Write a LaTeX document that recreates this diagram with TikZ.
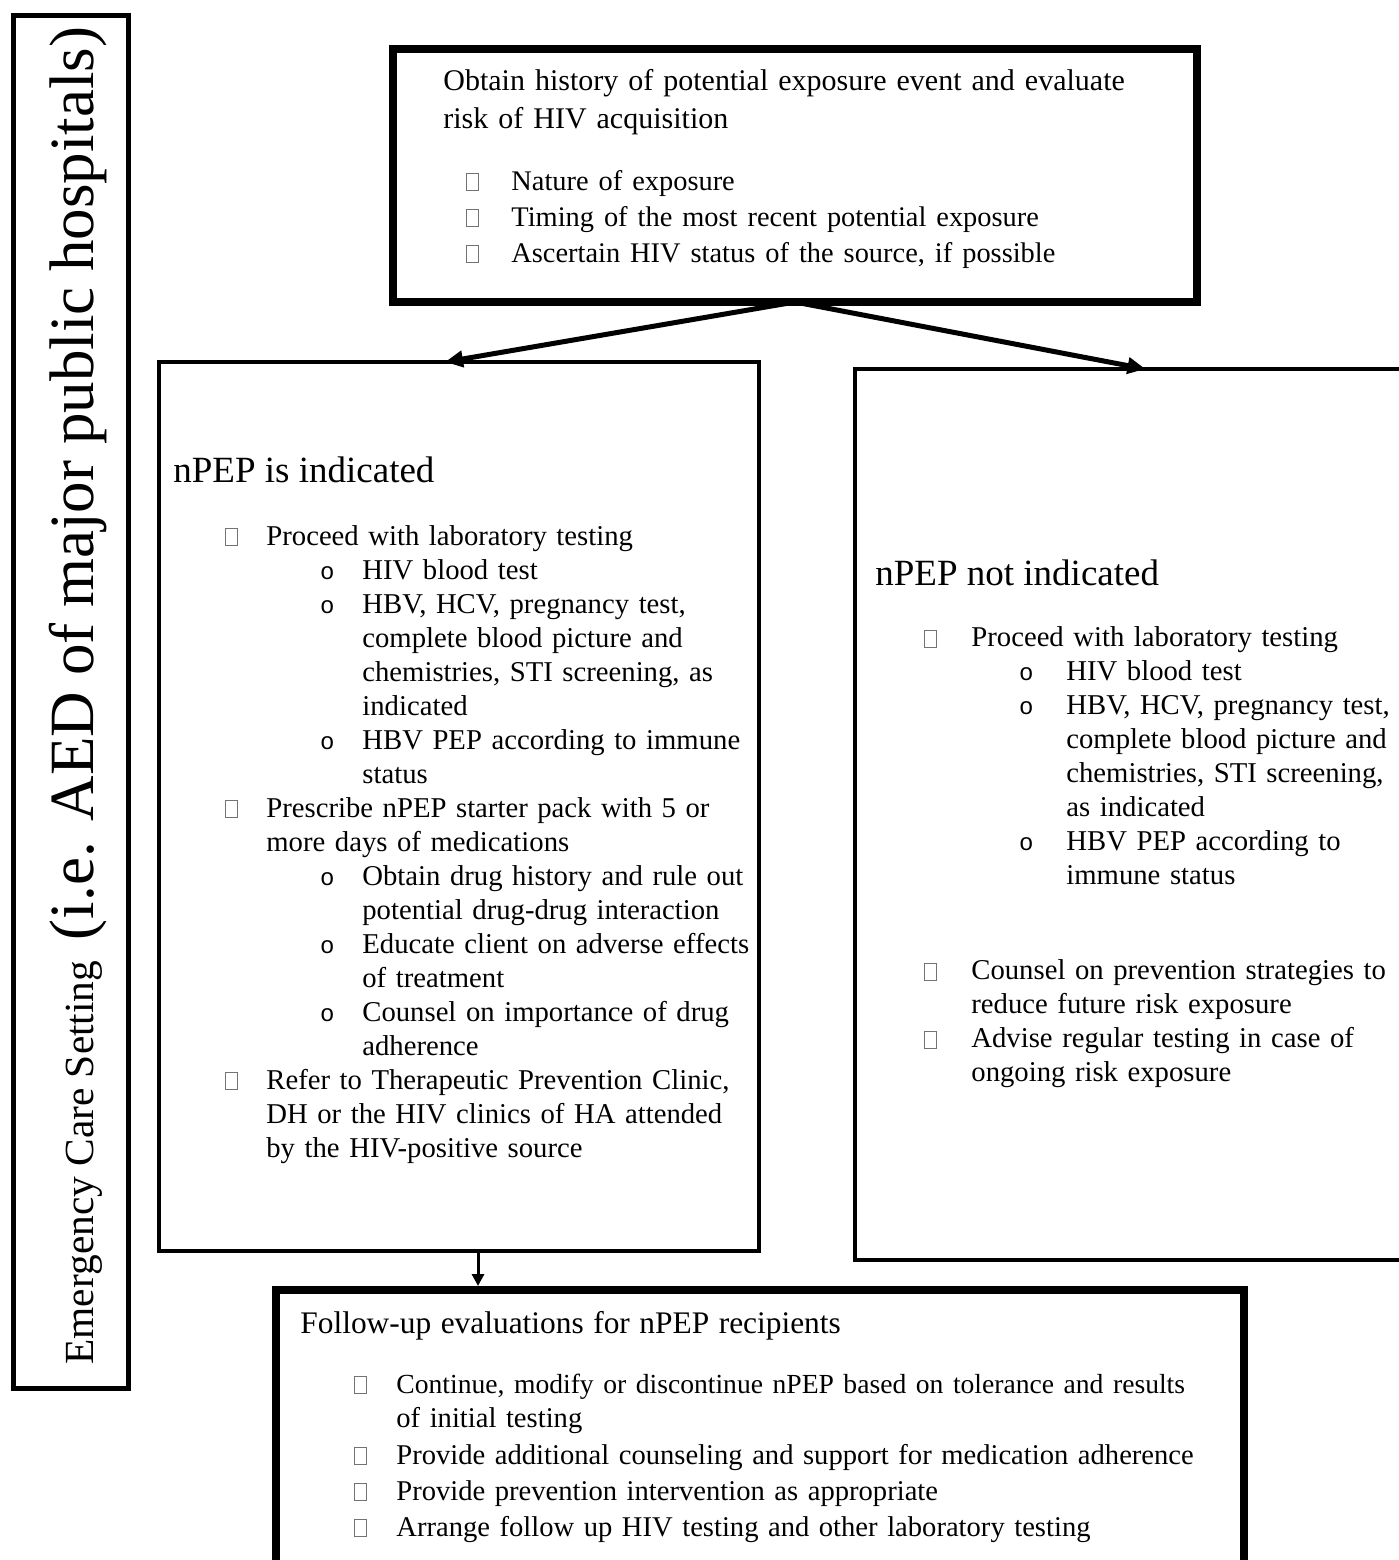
\documentclass[tikz,border=0pt]{standalone}
\usepackage{fontspec}
\setmainfont{Liberation Serif}
\setmonofont{Liberation Mono}
\usetikzlibrary{arrows.meta}

% empty square bullet, round bullet and hanging indents
\newcommand{\tofu}{\textcolor{black!55}{\setlength{\fboxsep}{0pt}\setlength{\fboxrule}{0.5pt}\fbox{\rule{0pt}{8pt}\hspace{5.5pt}}}}
\newcommand{\sq}[2]{\hspace*{#1}\makebox[0pt]{\tofu}\hspace*{\dimexpr#2-#1\relax}}
\newcommand{\ci}[2]{\hspace*{#1}\makebox[0pt]{\fontsize{12}{12}\selectfont\texttt{o}}\hspace*{\dimexpr#2-#1\relax}}
\newcommand{\ind}[1]{\hspace*{#1}}

\begin{document}
\begin{tikzpicture}[x=0.5pt, y=-0.5pt,
    box/.style={draw, line width=2pt, inner sep=0pt, outer sep=0pt},
    heavybox/.style={box, line width=4pt},
    body/.style={anchor=base west, inner sep=0pt, align=left, text width=520pt,
        font=\fontsize{14.35}{17}\selectfont},
    head/.style={anchor=base west, inner sep=0pt, font=\fontsize{18.5}{22}\selectfont},
    link/.style={line width=2.5pt, -{Triangle[length=9pt, width=8pt]}}]

    \useasboundingbox (0,0) rectangle (1399,1560);
    \clip (0,0) rectangle (1399,1560);

    % Frames
    \node[box, line width=2.5pt, minimum width=57.5pt, minimum height=686.5pt] (setting) at (71,702) {};
    \node[heavybox, minimum width=402pt, minimum height=126.5pt] (obtain) at (795,175.5) {};
    \node[box, minimum width=300pt, minimum height=444.5pt] (indic) at (459,806.5) {};
    \node[box, minimum width=282.5pt, minimum height=445.5pt] (notind) at (1137.5,814.5) {};
    \node[heavybox, minimum width=484pt, minimum height=155pt] (follow) at (760,1445) {};

    % Side label
    \node[rotate=90, anchor=base west, inner sep=0pt, font=\fontsize{20.7}{24}\selectfont] (settingTxt)
        at (93,1365) {Emergency Care Setting\ \ {\fontsize{31.5}{36}\selectfont(i.e. AED of major public hospitals)}};

    % History and risk
    \node[body, font=\fontsize{15}{18}\selectfont] (obtainTxt) at (443,90) {%
        Obtain history of potential exposure event and evaluate\\[1.2pt]
        risk of HIV acquisition\\[12.8pt]
        {\fontsize{14.2}{18}\selectfont\sq{14.5pt}{34pt}Nature of exposure}\\
        {\fontsize{14.2}{18}\selectfont\sq{14.5pt}{34pt}Timing of the most recent potential exposure}\\
        {\fontsize{14.2}{18}\selectfont\sq{14.5pt}{34pt}Ascertain HIV status of the source, if possible}};

    % nPEP indicated
    \node[head] (indicHead) at (173,482) {nPEP is indicated};
    \node[body] (indicTxt) at (173,545) {%
        \sq{29pt}{46.5pt}Proceed with laboratory testing\\
        \ci{77pt}{94.5pt}HIV blood test\\
        \ci{77pt}{94.5pt}HBV, HCV, pregnancy test,\\
        \ind{94.5pt}complete blood picture and\\
        \ind{94.5pt}chemistries, STI screening, as\\
        \ind{94.5pt}indicated\\
        \ci{77pt}{94.5pt}HBV PEP according to immune\\
        \ind{94.5pt}status\\
        \sq{29pt}{46.5pt}Prescribe nPEP starter pack with 5 or\\
        \ind{46.5pt}more days of medications\\
        \ci{77pt}{94.5pt}Obtain drug history and rule out\\
        \ind{94.5pt}potential drug-drug interaction\\
        \ci{77pt}{94.5pt}Educate client on adverse effects\\
        \ind{94.5pt}of treatment\\
        \ci{77pt}{94.5pt}Counsel on importance of drug\\
        \ind{94.5pt}adherence\\
        \sq{29pt}{46.5pt}Refer to Therapeutic Prevention Clinic,\\
        \ind{46.5pt}DH or the HIV clinics of HA attended\\
        \ind{46.5pt}by the HIV-positive source};

    % nPEP not indicated
    \node[head] (notindHead) at (875,585) {nPEP not indicated};
    \node[body] (notindTxt) at (875,646.7) {%
        \sq{27.5pt}{48pt}Proceed with laboratory testing\\
        \ci{75.5pt}{95.5pt}HIV blood test\\
        \ci{75.5pt}{95.5pt}HBV, HCV, pregnancy test,\\
        \ind{95.5pt}complete blood picture and\\
        \ind{95.5pt}chemistries, STI screening,\\
        \ind{95.5pt}as indicated\\
        \ci{75.5pt}{95.5pt}HBV PEP according to\\
        \ind{95.5pt}immune status\\[30.5pt]
        \sq{27.5pt}{48pt}Counsel on prevention strategies to\\
        \ind{48pt}reduce future risk exposure\\
        \sq{27.5pt}{48pt}Advise regular testing in case of\\
        \ind{48pt}ongoing risk exposure};

    % Follow-up
    \node[body, font=\fontsize{14.3}{17}\selectfont] (followTxt) at (300,1333) {%
        {\fontsize{15.7}{17}\selectfont Follow-up evaluations for nPEP recipients}\\[13pt]
        {\fontsize{13.8}{17}\selectfont\sq{30pt}{48pt}Continue, modify or discontinue nPEP based on tolerance and results}\\
        \ind{48pt}of initial testing\\[1.5pt]
        \sq{30pt}{48pt}Provide additional counseling and support for medication adherence\\[1pt]
        \sq{30pt}{48pt}Provide prevention intervention as appropriate\\[1pt]
        \sq{30pt}{48pt}Arrange follow up HIV testing and other laboratory testing};

    % Arrows
    \coordinate (down) at ([xshift=9.5pt]indic.south);
    \draw[link] (obtain.south) -- ([xshift=-7pt]indic.north);
    \draw[link] (obtain.south) -- ([xshift=4pt]notind.north);
    \draw[line width=1.5pt, -{Triangle[length=6pt, width=6pt]}, shorten >=2pt] (down) -- (down |- follow.north);
\end{tikzpicture}
\end{document}
